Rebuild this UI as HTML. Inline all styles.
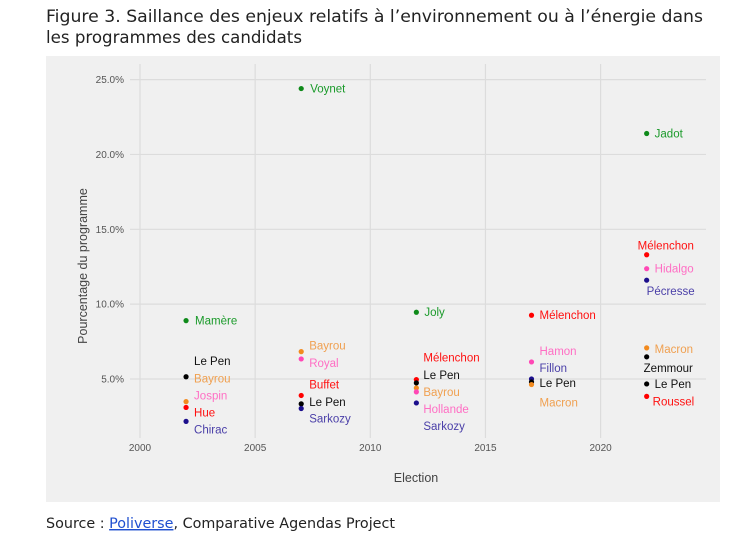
<!DOCTYPE html>
<html><head><meta charset="utf-8"><style>
body{margin:0;background:#fff;}
svg{display:block;font-family:"Liberation Sans",Arial,sans-serif;}
</style></head><body>
<svg id="chart" width="754" height="558" viewBox="0 0 754 558">
<text x="46" y="22" font-size="16.5" fill="#222" font-family="DejaVu Sans, sans-serif" textLength="657" lengthAdjust="spacingAndGlyphs">Figure 3. Saillance des enjeux relatifs à l’environnement ou à l’énergie dans</text>
<text x="46" y="43" font-size="16.5" fill="#222" font-family="DejaVu Sans, sans-serif" textLength="256" lengthAdjust="spacingAndGlyphs">les programmes des candidats</text>
<rect x="46" y="56" width="674" height="446" fill="#f0f0f0"/>
<g id="grid"></g>
<g id="axes"></g>
<g id="marks"></g>
<text x="416" y="482" font-size="12.5" fill="#444" text-anchor="middle">Election</text>
<text transform="translate(87,266) rotate(-90)" font-size="12.5" fill="#444" text-anchor="middle">Pourcentage du programme</text>
<text x="46" y="528" font-size="14.5" fill="#222" font-family="DejaVu Sans, sans-serif" textLength="349" lengthAdjust="spacingAndGlyphs">Source : <tspan fill="#1f4fd0" text-decoration="underline">Poliverse</tspan>, Comparative Agendas Project</text>
</svg>
<script>
const years=[2002,2002,2002,2002,2002,2002,2007,2007,2007,2007,2007,2007,2012,2012,2012,2012,2012,2012,2017,2017,2017,2017,2017,2022,2022,2022,2022,2022,2022,2022,2022];
const values=[8.9,5.15,3.49,3.1,3.1,2.17,24.4,6.83,6.34,3.9,3.34,3.03,9.46,4.96,4.74,4.4,4.14,3.4,9.26,6.14,5.0,4.8,4.63,21.4,13.3,12.37,11.6,7.08,6.48,4.67,3.84];
const names=["Mamère","Le Pen","Bayrou","Jospin","Hue","Chirac","Voynet","Bayrou","Royal","Buffet","Le Pen","Sarkozy","Joly","Mélenchon","Le Pen","Bayrou","Hollande","Sarkozy","Mélenchon","Hamon","Fillon","Le Pen","Macron","Jadot","Mélenchon","Hidalgo","Pécresse","Macron","Zemmour","Le Pen","Roussel"];
const parties=["g","k","o","p","r","b","g","o","p","r","k","b","g","r","k","o","p","b","r","p","b","k","o","g","r","p","b","o","k","k","r"];
const xTicks=[2000,2005,2010,2015,2020];
const yTicks=[5,10,15,20,25];
const yTickLabels=["5.0%","10.0%","15.0%","20.0%","25.0%"];
// label placement offsets (layout, px)
const labelDx=[9,8,8,8,8,8,9,8,8,8,8,8,8,7,7,7,7,7,8,8,8,8,8,8,-9,8,0,8,-3,8,6];
const labelDy=[0,-16,-23,-12,5,8,0,-6,4,-11,-2,10,0,-22,-8,4,17,23,0,-11,-11,1,18,0,-9,0,11,1,11,0,5];
const dotCol={g:"#0f8a1a",k:"#000",o:"#f28a1e",p:"#ff47b5",r:"#ff0000",b:"#1c0f8c"};
const txtCol={g:"#1a9a2a",k:"#111",o:"#f0a050",p:"#ff6ec4",r:"#ff1010",b:"#4a3fa8"};
const X=v=>140+(v-2000)*23.03;
const Y=v=>379-(v-5)*14.97;
const NS="http://www.w3.org/2000/svg";
function mk(t,a,p){const e=document.createElementNS(NS,t);for(const k in a)e.setAttribute(k,a[k]);p.appendChild(e);return e;}
const grid=document.getElementById('grid'),axes=document.getElementById('axes'),marks=document.getElementById('marks');
xTicks.forEach(t=>{
 const l=mk('line',{x1:X(t),x2:X(t),y1:64,y2:438,stroke:"#dcdcdc","stroke-width":1.2},grid);
 
 
 const tx=mk('text',{x:X(t),y:451,"font-size":10,fill:"#555","text-anchor":"middle"},axes);
 tx.textContent=t;
 
 
});
yTicks.forEach((t,i)=>{
 const l=mk('line',{x1:130,x2:706,y1:Y(t),y2:Y(t),stroke:"#dcdcdc","stroke-width":1.2},grid);
 
 
 const tx=mk('text',{x:124,y:Y(t)+3.5,"font-size":10,fill:"#555","text-anchor":"end"},axes);
 tx.textContent=yTickLabels[i];
 
 
});
years.forEach((yr,i)=>{
 const cx=X(yr),cy=Y(values[i]);
 const c=mk('circle',{cx:cx,cy:cy,r:2.6,fill:dotCol[parties[i]]},marks);
 
 
 const t=mk('text',{x:cx+labelDx[i],y:cy+labelDy[i]+4,"font-size":11.5,fill:txtCol[parties[i]]},marks);
 t.textContent=names[i];
 
 
});
</script>
</body></html>
